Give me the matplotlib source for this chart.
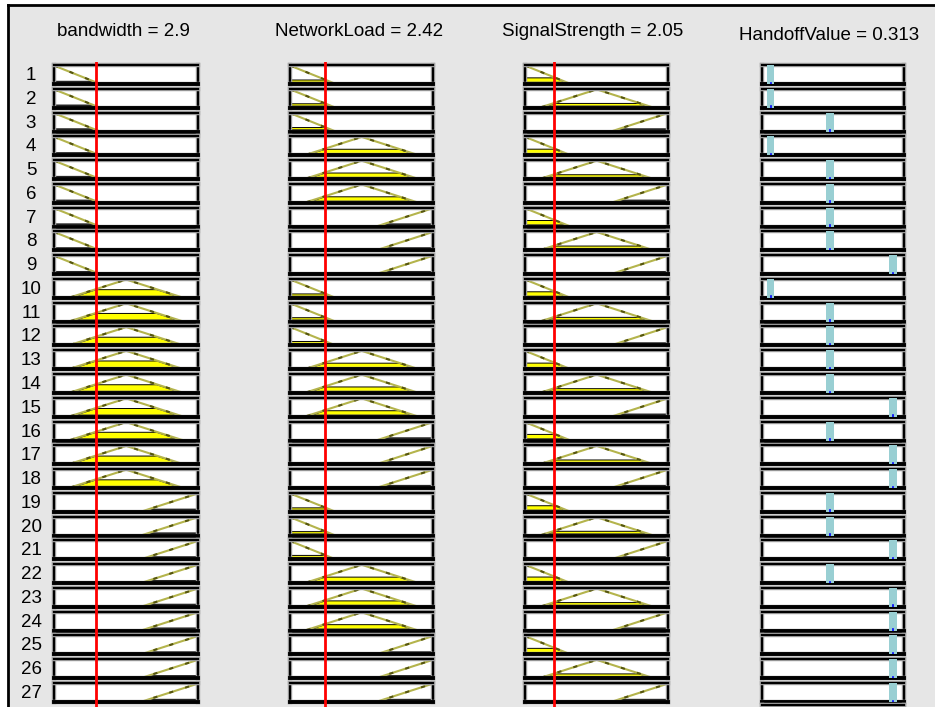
import matplotlib
matplotlib.use("Agg")
import matplotlib.pyplot as plt
import matplotlib.patheffects as pe
from matplotlib.patches import Rectangle
from matplotlib.lines import Line2D
import numpy as np

# fuzzy rule viewer: 3 inputs, 1 output, 27 rules
input_names = ["bandwidth", "NetworkLoad", "SignalStrength"]
input_values = [2.9, 2.42, 2.05]
input_range = [0, 10]
output_name = "HandoffValue"
output_value = 0.313
output_range = [0, 1]

# triangle membership functions (a, b, c), same for every input
mf_params = {"L": [-3.2, 0, 3.2], "M": [1, 5, 9], "H": [6, 10, 14]}
# sugeno output constants
out_consts = {"L": 0.06, "M": 0.48, "H": 0.92}

rules_bw = "L L L L L L L L L M M M M M M M M M H H H H H H H H H".split()
rules_nl = "L L L M M M H H H L L L M M M H H H L L L M M M H H H".split()
rules_ss = "L M H L M H L M H L M H L M H L M H L M H L M H L M H".split()
rules_out = "L L M L M M M M H L M M M M H M H H M M H M H H H H H".split()

W, H = 935, 707
plt.rcParams["font.family"] = ["Liberation Sans", "DejaVu Sans"]

fig = plt.figure(figsize=(W / 100, H / 100), dpi=100)
fig.patch.set_facecolor("white")


def px_axes(left, top, width, height):
    return fig.add_axes([left / W, 1 - (top + height) / H, width / W, height / H])


def trimf(x, p):
    a, b, c = p
    return np.clip(np.minimum((x - a) / (b - a), (c - x) / (c - b)), 0, 1)


# gray window background with black top/left edge
fig.add_artist(Rectangle((8 / W, 0), 1, 1 - 5 / H, transform=fig.transFigure,
                         facecolor="#e6e6e6", edgecolor="none", zorder=-10))
fig.add_artist(Line2D([8 / W, 1], [1 - 5 / H, 1 - 5 / H], transform=fig.transFigure,
                      color="black", lw=2))
fig.add_artist(Line2D([8 / W, 8 / W], [0, 1 - 5 / H], transform=fig.transFigure,
                      color="black", lw=2))

col_left = [54, 290, 525, 762]
col_width = [144, 143, 143, 142]
row_top0 = 65
row_pitch = 23.77
box_h = 19
halo = [pe.Stroke(linewidth=3.2, foreground="#a8a8a8"), pe.Normal()]


def style_box(ax):
    ax.set_facecolor("white")
    ax.set_xticks([])
    ax.set_yticks([])
    for s in ax.spines.values():
        s.set_linewidth(1.6)
        s.set_color("black")
        s.set_path_effects(halo)
    ax.spines["bottom"].set_linewidth(2.8)


xs = np.linspace(input_range[0], input_range[1], 400)
rule_cols = [rules_bw, rules_nl, rules_ss]

for r in range(27):
    top = row_top0 + r * row_pitch
    fig.text(31 / W, 1 - (top + box_h / 2 + 1) / H, str(r + 1), ha="center",
             va="center", fontsize=13.5)
    for c in range(3):
        ax = px_axes(col_left[c], top, col_width[c], box_h)
        style_box(ax)
        p = mf_params[rule_cols[c][r]]
        mf = trimf(xs, p)
        deg = trimf(np.array([input_values[c]]), p)[0]
        # dark base under the membership curve
        ax.fill_between(xs, 0, np.minimum(mf, 0.2), color="black", lw=0)
        ycut = np.minimum(mf, deg)
        ax.fill_between(xs, 0.12, ycut, where=ycut > 0.14, color="#ffff00",
                        edgecolor="black", lw=0.7)
        ax.plot(xs, mf, color="#b4b44c", lw=1.5)
        ax.plot(xs, mf, color="#55550f", lw=1.5, dashes=(2, 6))
        ax.set_xlim(input_range)
        ax.set_ylim(0, 1.03)
    # output column
    ax = px_axes(col_left[3], top, col_width[3], box_h)
    style_box(ax)
    k = out_consts[rules_out[r]]
    ax.bar([k], [1.03], width=0.056, color="#99cfd3", zorder=3)
    ax.plot([k, k], [0, 0.08], color="#0000ff", lw=1.2, zorder=4)
    ax.set_xlim(output_range)
    ax.set_ylim(0, 1.03)

# aggregated output box, cut by window edge
ax = px_axes(col_left[3], 705, col_width[3], box_h)
style_box(ax)
ax.axvline(output_value, ymin=0.7, ymax=1, color="red", lw=2)
ax.set_xlim(output_range)

# column titles
titles = ["%s = %g" % (n, v) for n, v in zip(input_names, input_values)]
titles.append("%s = %g" % (output_name, output_value))
title_x = [123, 359, 593, 829]
title_y = [31, 31, 31, 36]
for t, tx, ty in zip(titles, title_x, title_y):
    fig.text(tx / W, 1 - ty / H, t, ha="center", va="center", fontsize=13.5)

# red input lines over whole column
for c in range(3):
    ax = px_axes(col_left[c], 62, col_width[c], H - 62)
    ax.set_xlim(input_range)
    ax.set_ylim(0, 1)
    ax.axis("off")
    ax.axvline(input_values[c], color="#ff0000", lw=2)

fig.savefig("out.png", dpi=100)
